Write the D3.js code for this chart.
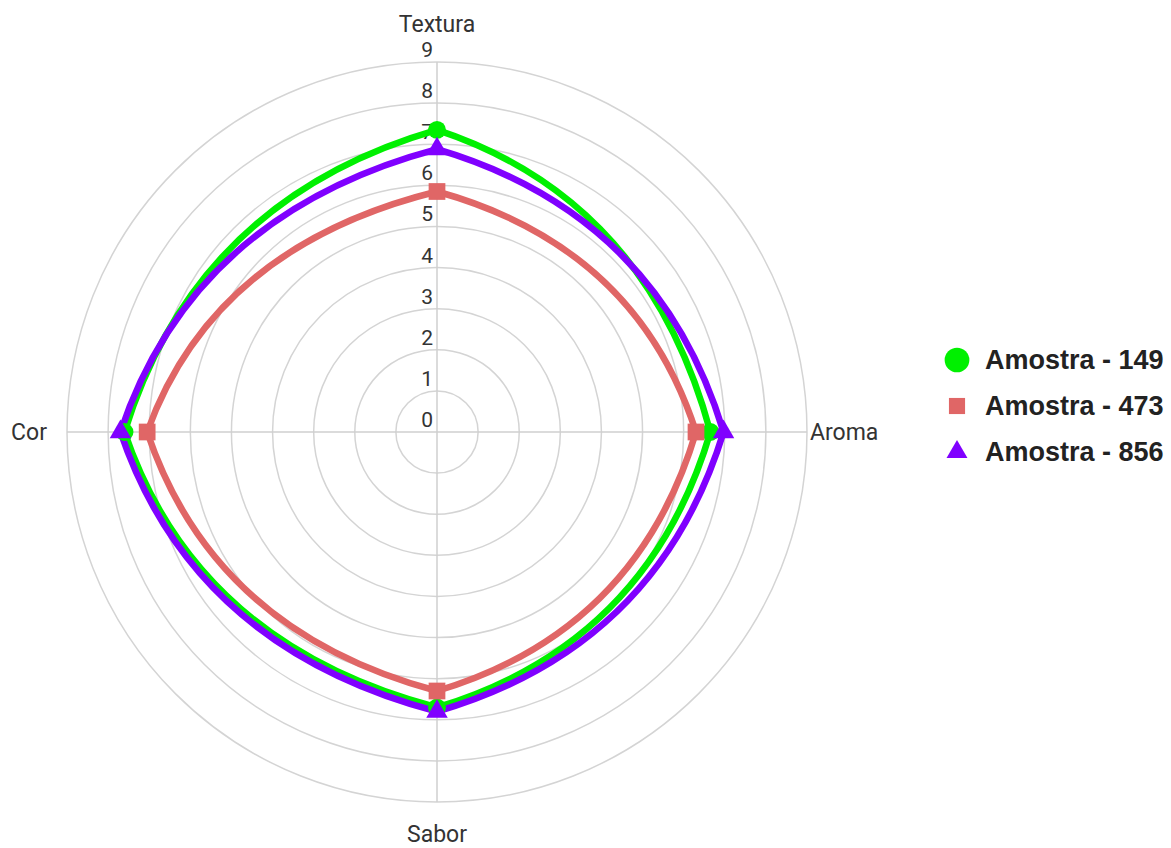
<!DOCTYPE html>
<html>
<head>
<meta charset="utf-8">
<script src="https://cdn.jsdelivr.net/npm/d3@7"></script>
<style>
html,body{margin:0;padding:0;background:#fff;}
svg{display:block;}
</style>
</head>
<body>
<svg id="chart" width="1171" height="848"></svg>
<script>
const categories = ["Textura", "Aroma", "Sabor", "Cor"];
const seriesNames = ["Amostra - 149", "Amostra - 473", "Amostra - 856"];
const values149 = [7.35, 6.65, 6.7, 7.6];
const values473 = [5.85, 6.3, 6.3, 7.05];
const values856 = [6.88, 6.97, 6.8, 7.7];
const tickValues = [0, 1, 2, 3, 4, 5, 6, 7, 8, 9];
const colors = ["#00f000", "#e06666", "#8000ff"];
const symbols = [d3.symbolCircle, d3.symbolSquare, d3.symbolTriangle];

const series = seriesNames.map((name, i) => ({
  name, values: [values149, values473, values856][i], color: colors[i], symbol: symbols[i]
}));

const svg = d3.select("#chart");
const cx = 437, cy = 432, R = 370;

const r = d3.scaleLinear().domain([0, 9]).range([0, R]);
const angle = d3.scalePoint().domain(categories.concat(["_end"])).range([0, 2 * Math.PI]);

const g = svg.append("g").attr("transform", `translate(${cx},${cy})`);

// grid circles
g.selectAll("circle.grid").data(tickValues.filter(t => t > 0)).join("circle")
  .attr("class", "grid").attr("r", d => r(d))
  .attr("fill", "none").attr("stroke", "#d4d4d4").attr("stroke-width", 1.5);

// axes
g.selectAll("line.axis").data(categories).join("line")
  .attr("x1", 0).attr("y1", 0)
  .attr("x2", d => R * Math.sin(angle(d)))
  .attr("y2", d => -R * Math.cos(angle(d)))
  .attr("stroke", "#cfcfcf").attr("stroke-width", 1.5);

// tick labels
g.selectAll("text.tick").data(tickValues).join("text")
  .attr("x", -4).attr("y", d => -r(d) - 5)
  .attr("text-anchor", "end")
  .attr("font-family", "Roboto, sans-serif").attr("font-size", 21)
  .attr("fill", "#333").text(d => d);

// category labels
const labelPos = {
  "Textura": {x: 0, y: -400, anchor: "middle"},
  "Aroma": {x: 373, y: 8, anchor: "start"},
  "Sabor": {x: 0, y: 410, anchor: "middle"},
  "Cor": {x: -390, y: 8, anchor: "end"}
};
g.selectAll("text.cat").data(categories).join("text")
  .attr("x", d => labelPos[d].x).attr("y", d => labelPos[d].y)
  .attr("text-anchor", d => labelPos[d].anchor)
  .attr("font-family", "Roboto, sans-serif").attr("font-size", 23)
  .attr("fill", "#333").text(d => d);

// custom closed curve: quadratic segments bulging outward from the centre
function curveBulgeClosed(context) {
  const s = 0.77;
  let pts;
  return {
    areaStart() {}, areaEnd() {},
    lineStart() { pts = []; },
    point(x, y) { pts.push([+x, +y]); },
    lineEnd() {
      const n = pts.length;
      if (!n) return;
      context.moveTo(pts[0][0], pts[0][1]);
      for (let i = 0; i < n; i++) {
        const a = pts[i], b = pts[(i + 1) % n];
        context.quadraticCurveTo(s * (a[0] + b[0]), s * (a[1] + b[1]), b[0], b[1]);
      }
      context.closePath();
    }
  };
}

const line = d3.lineRadial()
  .angle((d, i) => angle(categories[i]))
  .radius(d => r(d))
  .curve(curveBulgeClosed);

series.forEach(s => {
  g.append("path").datum(s.values)
    .attr("d", line)
    .attr("fill", "none").attr("stroke", s.color).attr("stroke-width", 6.5)
    .attr("stroke-linejoin", "miter");
});

series.forEach(s => {
  const sym = d3.symbol().type(s.symbol).size(s.symbol === d3.symbolCircle ? 250 : (s.symbol === d3.symbolSquare ? 280 : 200));
  g.selectAll(null).data(s.values).join("path")
    .attr("d", sym)
    .attr("transform", (d, i) => {
      const a = angle(categories[i]);
      return `translate(${r(d) * Math.sin(a)},${-r(d) * Math.cos(a)})`;
    })
    .attr("fill", s.color);
});

// legend
const legend = svg.append("g").attr("transform", "translate(957,360)");
const legendSizes = [480, 260, 190];
series.forEach((s, i) => {
  const row = legend.append("g").attr("transform", `translate(0,${i * 46})`);
  row.append("path").attr("d", d3.symbol().type(s.symbol).size(legendSizes[i])).attr("fill", s.color);
  row.append("text").attr("x", 28).attr("y", 0).attr("dy", "0.35em")
    .attr("font-family", "'Liberation Sans', Arial, sans-serif").attr("font-weight", "bold")
    .attr("font-size", 27).attr("fill", "#222").text(s.name);
});
</script>
</body>
</html>
